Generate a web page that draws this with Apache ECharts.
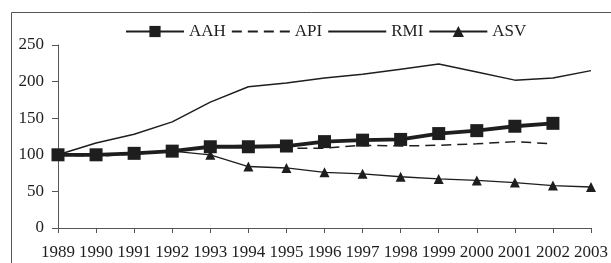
<!DOCTYPE html>
<html>
<head>
<meta charset="utf-8">
<script src="https://cdn.jsdelivr.net/npm/echarts@6/dist/echarts.min.js"></script>
<style>
  html, body { margin: 0; padding: 0; background: #fff; }
  #chart { width: 611px; height: 263px; }
</style>
</head>
<body>
<div id="chart"></div>
<script>
// 年份
var years = ['1989', '1990', '1991', '1992', '1993', '1994', '1995', '1996',
  '1997', '1998', '1999', '2000', '2001', '2002', '2003'];
// 各指数
var aah = [100, 100, 102, 105, 111, 111, 112, 118, 120, 121, 129, 133, 139, 143, null];
var api = [100, 98, 101, 105, 111, 113, 109, 109, 113, 112, 113, 115, 118, 115, null];
var rmi = [100, 116, 128, 145, 172, 193, 198, 205, 210, 217, 224, 213, 202, 205, 215];
var asv = [100, 100, 102, 105, 100, 84, 82, 76, 74, 70, 67, 65, 62, 58, 56];
var yTicks = [0, 50, 100, 150, 200, 250];

var font = "'Liberation Serif', 'Times New Roman', serif";
var ink = '#1e1e1e';
var axisGray = '#555';

var chart = echarts.init(document.getElementById('chart'));

var option = {
  animation: false,
  textStyle: { fontFamily: font },
  graphic: [{
    type: 'rect',
    shape: { x: 11.5, y: 12.5, width: 640, height: 300 },
    style: { fill: 'none', stroke: axisGray, lineWidth: 1 },
    silent: true
  }],
  legend: {
    left: 120,
    top: 18,
    itemWidth: 58,
    itemHeight: 14,
    itemGap: 5,
    textStyle: { fontFamily: font, fontSize: 17, color: ink },
    data: [
      'AAH',
      { name: 'API', itemStyle: { opacity: 0 } },
      { name: 'RMI', itemStyle: { opacity: 0 } },
      'ASV'
    ]
  },
  grid: {
    left: 58,
    right: 13,
    top: 45,
    bottom: 35
  },
  xAxis: {
    type: 'category',
    data: years,
    boundaryGap: false,
    axisLine: { lineStyle: { color: axisGray, width: 1 } },
    axisTick: { show: true, length: 5, inside: false, alignWithLabel: true, interval: 0, lineStyle: { color: axisGray } },
    axisLabel: { interval: 0, margin: 16, fontFamily: font, fontSize: 17, color: ink },
    splitLine: { show: false }
  },
  yAxis: {
    type: 'value',
    min: yTicks[0],
    max: yTicks[yTicks.length - 1],
    interval: 50,
    axisLine: { show: true, lineStyle: { color: axisGray, width: 1 } },
    axisTick: { show: true, length: 6, lineStyle: { color: axisGray } },
    axisLabel: { margin: 14, fontFamily: font, fontSize: 17, color: ink },
    splitLine: { show: false }
  },
  series: [
    {
      name: 'AAH',
      type: 'line',
      data: aah,
      symbol: 'rect',
      symbolSize: 13,
      showAllSymbol: true,
      lineStyle: { color: ink, width: 3.8 },
      itemStyle: { color: ink },
      z: 4
    },
    {
      name: 'API',
      type: 'line',
      data: api,
      symbol: 'none',
      lineStyle: { color: ink, width: 1.5, type: [10, 6] },
      itemStyle: { color: ink },
      z: 3
    },
    {
      name: 'RMI',
      type: 'line',
      data: rmi,
      symbol: 'none',
      lineStyle: { color: ink, width: 1.5 },
      itemStyle: { color: ink },
      z: 3
    },
    {
      name: 'ASV',
      type: 'line',
      data: asv,
      symbol: 'triangle',
      symbolSize: 10,
      showAllSymbol: true,
      lineStyle: { color: ink, width: 1.3 },
      itemStyle: { color: ink },
      z: 2
    }
  ]
};

chart.setOption(option);
</script>
</body>
</html>
